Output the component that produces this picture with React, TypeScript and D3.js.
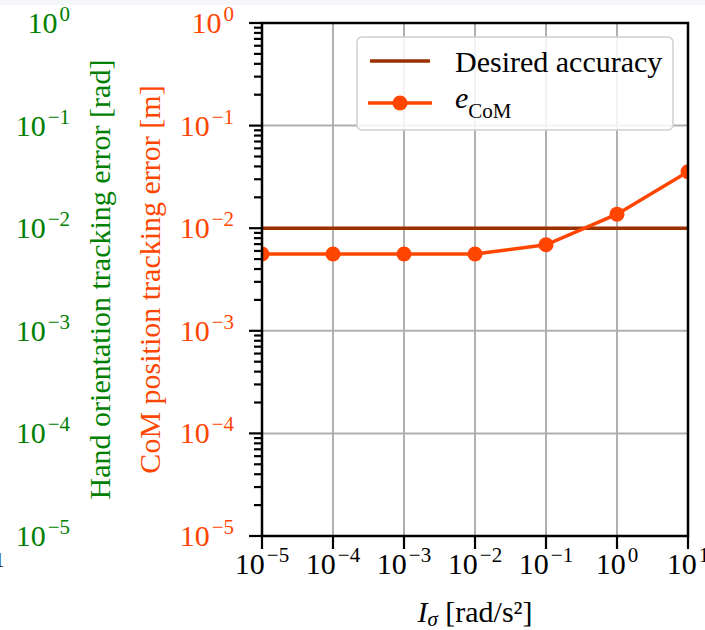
import React, { useEffect, useRef } from 'react';
import * as d3 from 'd3';

// x values (I_sigma) and CoM tracking error
const inertia = [1e-5, 1e-4, 1e-3, 1e-2, 1e-1, 1e0, 1e1];
const comError = [0.0056, 0.0056, 0.0056, 0.0056, 0.0069, 0.0137, 0.0355];
const desiredAccuracy = 0.01;
const xTickExps = [-5, -4, -3, -2, -1, 0, 1];
const yTickExps = [0, -1, -2, -3, -4, -5];

const W = 705;
const H = 630;
const FONT = '"Liberation Serif", "DejaVu Serif", serif';
const FS = 30;
const FS_SMALL = 21;
const ORANGE = '#ff4500';
const BROWN = '#993000';
const GREEN = '#008000';

const App: React.FC = () => {
  const svgRef = useRef<SVGSVGElement | null>(null);

  useEffect(() => {
    const margin = { top: 23, right: 17, bottom: 94, left: 262 };
    const svg = d3.select(svgRef.current).attr('width', W).attr('height', H);
    svg.selectAll('*').remove();

    // faint band at the top edge of the screenshot
    svg.append('rect').attr('x', 0).attr('y', 0).attr('width', W).attr('height', 5).attr('fill', '#f5f7fa');

    const x = d3.scaleLog().domain([1e-5, 1e1]).range([margin.left, W - margin.right]);
    const y = d3.scaleLog().domain([1e-5, 1]).range([H - margin.bottom, margin.top]);
    const [x0, x1] = x.range();
    const [y0, y1] = y.range();

    svg.append('defs').append('clipPath').attr('id', 'plotClip')
      .append('rect').attr('x', x0).attr('y', y1).attr('width', x1 - x0).attr('height', y0 - y1);

    // grid
    const grid = svg.append('g').attr('stroke', '#b0b0b0').attr('stroke-width', 2);
    xTickExps.forEach(e => {
      grid.append('line').attr('x1', x(10 ** e)).attr('x2', x(10 ** e)).attr('y1', y0).attr('y2', y1);
    });
    yTickExps.forEach(e => {
      grid.append('line').attr('x1', x0).attr('x2', x1).attr('y1', y(10 ** e)).attr('y2', y(10 ** e));
    });

    const plot = svg.append('g').attr('clip-path', 'url(#plotClip)');

    // desired accuracy
    plot.append('line')
      .attr('x1', x0).attr('x2', x1)
      .attr('y1', y(desiredAccuracy)).attr('y2', y(desiredAccuracy))
      .attr('stroke', BROWN).attr('stroke-width', 3.5);

    const pts = inertia.map((v, i) => [v, comError[i]] as [number, number]);
    const line = d3.line<[number, number]>().x(d => x(d[0])).y(d => y(d[1]));
    plot.append('path').attr('d', line(pts)).attr('fill', 'none')
      .attr('stroke', ORANGE).attr('stroke-width', 3.5);
    plot.selectAll('circle').data(pts).enter().append('circle')
      .attr('cx', d => x(d[0])).attr('cy', d => y(d[1])).attr('r', 7.5).attr('fill', ORANGE);

    // spines
    svg.append('rect').attr('x', x0).attr('y', y1).attr('width', x1 - x0).attr('height', y0 - y1)
      .attr('fill', 'none').attr('stroke', 'black').attr('stroke-width', 2.5);

    // y ticks (major + minor)
    const ticks = svg.append('g').attr('stroke', 'black').attr('stroke-width', 2.2);
    yTickExps.forEach(e => {
      ticks.append('line').attr('x1', x0 - 13).attr('x2', x0).attr('y1', y(10 ** e)).attr('y2', y(10 ** e));
      if (e < 0) {
        for (let m = 2; m <= 9; m++) {
          const v = m * 10 ** e;
          ticks.append('line').attr('x1', x0 - 8).attr('x2', x0).attr('y1', y(v)).attr('y2', y(v));
        }
      }
    });
    xTickExps.forEach(e => {
      ticks.append('line').attr('x1', x(10 ** e)).attr('x2', x(10 ** e)).attr('y1', y0).attr('y2', y0 + 13);
    });

    const power = (g: d3.Selection<SVGGElement, unknown, null, undefined>, px: number, py: number,
      e: number, anchor: string, color: string) => {
      const t = g.append('text').attr('x', px).attr('y', py).attr('text-anchor', anchor)
        .attr('fill', color).attr('font-family', FONT).attr('font-size', FS);
      t.append('tspan').text('10');
      t.append('tspan').attr('dx', 2).attr('dy', -12).attr('font-size', FS_SMALL).text(e < 0 ? `\u2212${-e}` : `${e}`);
    };

    const labels = svg.append('g') as d3.Selection<SVGGElement, unknown, null, undefined>;
    xTickExps.forEach(e => power(labels, x(10 ** e), y0 + 38, e, 'middle', 'black'));
    yTickExps.forEach(e => {
      power(labels, 234, y(10 ** e) + 10, e, 'end', ORANGE);
      power(labels, 70, y(10 ** e) + 10, e, 'end', GREEN);
    });

    // cut-off tick label of the neighbouring panel
    svg.append('text').attr('x', -6).attr('y', 567).attr('font-family', FONT).attr('font-size', FS_SMALL).text('1');

    const midY = (y0 + y1) / 2;
    svg.append('text').attr('transform', `translate(110,${midY}) rotate(-90)`).attr('text-anchor', 'middle')
      .attr('font-family', FONT).attr('font-size', FS).attr('fill', GREEN)
      .text('Hand orientation tracking error [rad]');
    svg.append('text').attr('transform', `translate(160,${midY}) rotate(-90)`).attr('text-anchor', 'middle')
      .attr('font-family', FONT).attr('font-size', FS).attr('fill', ORANGE)
      .text('CoM position tracking error [m]');

    // x label
    const xl = svg.append('text').attr('x', (x0 + x1) / 2).attr('y', 622).attr('text-anchor', 'middle')
      .attr('font-family', FONT).attr('font-size', FS);
    xl.append('tspan').attr('font-style', 'italic').text('I');
    xl.append('tspan').attr('font-style', 'italic').attr('font-size', FS_SMALL).attr('dy', 4).text('\u03c3');
    xl.append('tspan').attr('dy', -4).text(' [rad/s\u00b2]');

    // legend
    const lg = svg.append('g');
    lg.append('rect').attr('x', 357).attr('y', 37).attr('width', 316).attr('height', 93).attr('rx', 5)
      .attr('fill', 'white').attr('fill-opacity', 0.85).attr('stroke', '#d0d0d0').attr('stroke-width', 1.5);
    lg.append('line').attr('x1', 370).attr('x2', 430).attr('y1', 61).attr('y2', 61)
      .attr('stroke', BROWN).attr('stroke-width', 3.5);
    lg.append('text').attr('x', 455).attr('y', 72).attr('font-family', FONT).attr('font-size', FS)
      .text('Desired accuracy');
    lg.append('line').attr('x1', 368).attr('x2', 432).attr('y1', 103).attr('y2', 103)
      .attr('stroke', ORANGE).attr('stroke-width', 3.5);
    lg.append('circle').attr('cx', 400).attr('cy', 103).attr('r', 7.5).attr('fill', ORANGE);
    const le = lg.append('text').attr('x', 455).attr('y', 108).attr('font-family', FONT).attr('font-size', FS);
    le.append('tspan').attr('font-style', 'italic').text('e');
    le.append('tspan').attr('font-size', FS_SMALL).attr('dy', 10).text('CoM');
  }, []);

  return <svg ref={svgRef} style={{ position: 'absolute', left: 0, top: 0, display: 'block' }} />;
};

export default App;
